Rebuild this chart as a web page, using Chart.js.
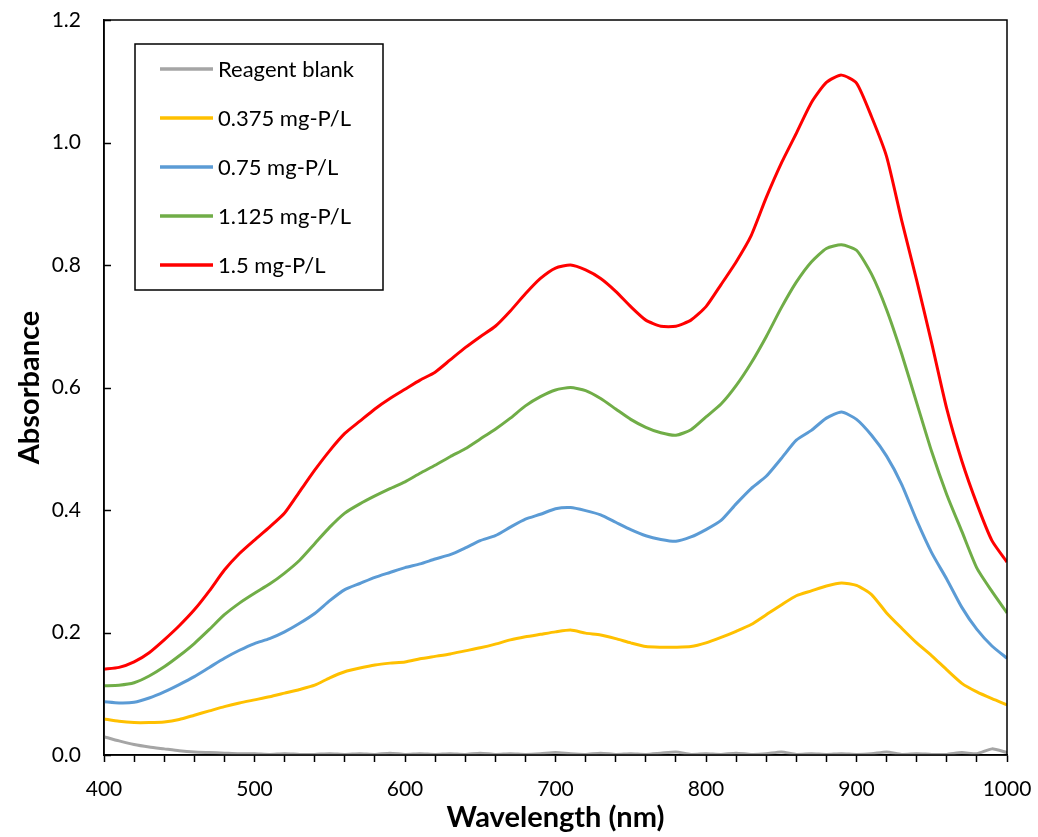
<!DOCTYPE html>
<html>
<head>
<meta charset="utf-8">
<script src="https://cdn.jsdelivr.net/npm/chart.js@4.4.1/dist/chart.umd.min.js"></script>
<style>
  html, body { margin: 0; padding: 0; background: #fff; }
  #wrap { width: 1038px; height: 837px; }
</style>
</head>
<body>
<div id="wrap"><canvas id="myChart" width="1038" height="837"></canvas></div>
<script>
// wavelength (nm), every 10 nm
var wavelength = [400, 410, 420, 430, 440, 450, 460, 470, 480, 490,
                  500, 510, 520, 530, 540, 550, 560, 570, 580, 590,
                  600, 610, 620, 630, 640, 650, 660, 670, 680, 690,
                  700, 710, 720, 730, 740, 750, 760, 770, 780, 790,
                  800, 810, 820, 830, 840, 850, 860, 870, 880, 890,
                  900, 910, 920, 930, 940, 950, 960, 970, 980, 990, 1000];

var blank = [0.030, 0.023, 0.017, 0.013, 0.010, 0.007, 0.005, 0.004, 0.003, 0.002,
             0.002, 0.001, 0.002, 0.001, 0.001, 0.002, 0.001, 0.002, 0.001, 0.003,
             0.001, 0.002, 0.001, 0.002, 0.001, 0.003, 0.001, 0.002, 0.001, 0.002,
             0.004, 0.002, 0.001, 0.003, 0.001, 0.002, 0.001, 0.003, 0.005, 0.001,
             0.002, 0.001, 0.003, 0.001, 0.002, 0.005, 0.001, 0.002, 0.001, 0.002,
             0.001, 0.002, 0.005, 0.001, 0.002, 0.001, 0.001, 0.004, 0.002, 0.010, 0.004];

var p0375 = [0.059, 0.055, 0.053, 0.053, 0.054, 0.058, 0.065, 0.072, 0.079, 0.085,
             0.090, 0.095, 0.101, 0.107, 0.114, 0.126, 0.136, 0.142, 0.147, 0.150,
             0.152, 0.157, 0.161, 0.165, 0.170, 0.175, 0.181, 0.188, 0.193, 0.197,
             0.201, 0.204, 0.199, 0.196, 0.190, 0.183, 0.177, 0.176, 0.176, 0.177,
             0.183, 0.192, 0.202, 0.213, 0.229, 0.245, 0.260, 0.268, 0.276, 0.281,
             0.277, 0.262, 0.232, 0.207, 0.183, 0.162, 0.139, 0.117, 0.103, 0.092, 0.082];

var p075 = [0.087, 0.085, 0.086, 0.093, 0.103, 0.115, 0.128, 0.143, 0.158, 0.171,
            0.182, 0.190, 0.201, 0.215, 0.231, 0.252, 0.270, 0.280, 0.290, 0.298,
            0.306, 0.312, 0.320, 0.327, 0.338, 0.350, 0.358, 0.372, 0.385, 0.393,
            0.402, 0.404, 0.399, 0.392, 0.380, 0.368, 0.358, 0.352, 0.349, 0.356,
            0.368, 0.383, 0.410, 0.435, 0.455, 0.484, 0.514, 0.530, 0.550, 0.560,
            0.548, 0.522, 0.488, 0.442, 0.383, 0.330, 0.287, 0.241, 0.205, 0.178, 0.158];

var p1125 = [0.113, 0.114, 0.118, 0.129, 0.144, 0.162, 0.182, 0.205, 0.229, 0.248,
             0.264, 0.279, 0.297, 0.318, 0.345, 0.372, 0.395, 0.410, 0.423, 0.435,
             0.446, 0.460, 0.473, 0.487, 0.500, 0.516, 0.532, 0.550, 0.570, 0.585,
             0.596, 0.600, 0.595, 0.582, 0.565, 0.548, 0.535, 0.526, 0.522, 0.531,
             0.552, 0.573, 0.603, 0.640, 0.683, 0.730, 0.772, 0.805, 0.827, 0.833,
             0.824, 0.785, 0.727, 0.655, 0.575, 0.495, 0.425, 0.365, 0.305, 0.267, 0.232];

var p15 = [0.140, 0.143, 0.152, 0.167, 0.188, 0.211, 0.237, 0.268, 0.302, 0.329,
           0.351, 0.372, 0.395, 0.430, 0.465, 0.497, 0.525, 0.545, 0.565, 0.582,
           0.597, 0.612, 0.625, 0.645, 0.665, 0.683, 0.700, 0.725, 0.753, 0.778,
           0.795, 0.800, 0.792, 0.778, 0.757, 0.732, 0.710, 0.700, 0.700, 0.710,
           0.732, 0.768, 0.805, 0.848, 0.910, 0.966, 1.015, 1.065, 1.098, 1.110,
           1.097, 1.042, 0.977, 0.873, 0.775, 0.672, 0.565, 0.480, 0.410, 0.350, 0.315];

var seriesNames = ['Reagent blank', '0.375 mg-P/L', '0.75 mg-P/L', '1.125 mg-P/L', '1.5 mg-P/L'];
var seriesColors = ['#A5A5A5', '#FFC000', '#5B9BD5', '#70AD47', '#FF0000'];
var seriesValues = [blank, p0375, p075, p1125, p15];

function toPoints(vals) {
    return wavelength.map(function (w, i) { return { x: w, y: vals[i] }; });
}

// plot frame + inward y ticks
var frame = {
    id: 'frame',
    afterDatasetsDraw: function (chart) {
        var a = chart.chartArea, c = chart.ctx, ys = chart.scales.y;
        c.save();
        c.strokeStyle = '#000';
        c.lineWidth = 1.5;
        c.strokeRect(a.left, a.top, a.right - a.left, a.bottom - a.top);
        ys.ticks.forEach(function (t) {
            var py = Math.round(ys.getPixelForValue(t.value)) + 0.5;
            c.beginPath();
            c.moveTo(a.left, py);
            c.lineTo(a.left + 7, py);
            c.stroke();
        });
        c.restore();
    }
};

// boxed legend inside the plot, like the original
var boxLegend = {
    id: 'boxLegend',
    afterDraw: function (chart) {
        var c = chart.ctx;
        c.save();
        c.fillStyle = '#fff';
        c.fillRect(135, 44, 248, 246);
        c.strokeStyle = '#000';
        c.lineWidth = 1.5;
        c.strokeRect(135, 44, 248, 246);
        c.font = '22px Lato';
        c.textBaseline = 'middle';
        c.fillStyle = '#000';
        chart.data.datasets.forEach(function (ds, i) {
            var y = 69 + i * 49;
            c.strokeStyle = ds.borderColor;
            c.lineWidth = 3.5;
            c.beginPath();
            c.moveTo(160, y);
            c.lineTo(213, y);
            c.stroke();
            c.fillText(ds.label, 218, y + 1);
        });
        c.restore();
    }
};

Chart.defaults.font.family = 'Lato';
Chart.defaults.color = '#000';

var ctx = document.getElementById('myChart').getContext('2d');
var chart = new Chart(ctx, {
    type: 'line',
    data: {
        datasets: seriesNames.map(function (name, i) {
            return {
                label: name,
                data: toPoints(seriesValues[i]),
                borderColor: seriesColors[i],
                backgroundColor: seriesColors[i],
                borderWidth: 3,
                pointRadius: 0,
                tension: 0.2,
                fill: false,
                order: seriesNames.length - i
            };
        })
    },
    options: {
        responsive: false,
        animation: false,
        devicePixelRatio: 1,
        layout: { padding: { left: 0, top: 20, right: 31, bottom: 0 } },
        plugins: {
            legend: { display: false },
            tooltip: { enabled: false }
        },
        scales: {
            x: {
                type: 'linear',
                min: 400,
                max: 1000,
                afterFit: function (s) {
                    s.height = 82;
                    s.paddingLeft = 0;
                    s.paddingRight = 0;
                },
                ticks: {
                    stepSize: 20,
                    autoSkip: false,
                    maxRotation: 0,
                    padding: 15,
                    font: { size: 21 },
                    callback: function (v) { return v % 100 === 0 ? v : ''; }
                },
                grid: {
                    drawOnChartArea: false,
                    drawTicks: true,
                    tickLength: 7,
                    tickColor: '#000',
                    tickWidth: 1.5
                },
                border: { display: true, color: '#000', width: 1.5 },
                title: {
                    display: true,
                    text: 'Wavelength (nm)',
                    font: { size: 29, weight: 'bold' },
                    padding: { top: 0, bottom: 2 }
                }
            },
            y: {
                min: 0,
                max: 1.2,
                afterFit: function (s) {
                    s.width = 104;
                    s.paddingTop = 0;
                    s.paddingBottom = 0;
                },
                ticks: {
                    stepSize: 0.2,
                    padding: 23,
                    font: { size: 21 },
                    callback: function (v) { return v.toFixed(1); }
                },
                grid: {
                    drawOnChartArea: false,
                    drawTicks: false
                },
                border: { display: true, color: '#000', width: 1.5 },
                title: {
                    display: true,
                    text: 'Absorbance',
                    font: { size: 29, weight: 'bold' },
                    padding: { top: 12, bottom: 0 }
                }
            }
        }
    },
    plugins: [frame, boxLegend]
});
</script>
</body>
</html>
